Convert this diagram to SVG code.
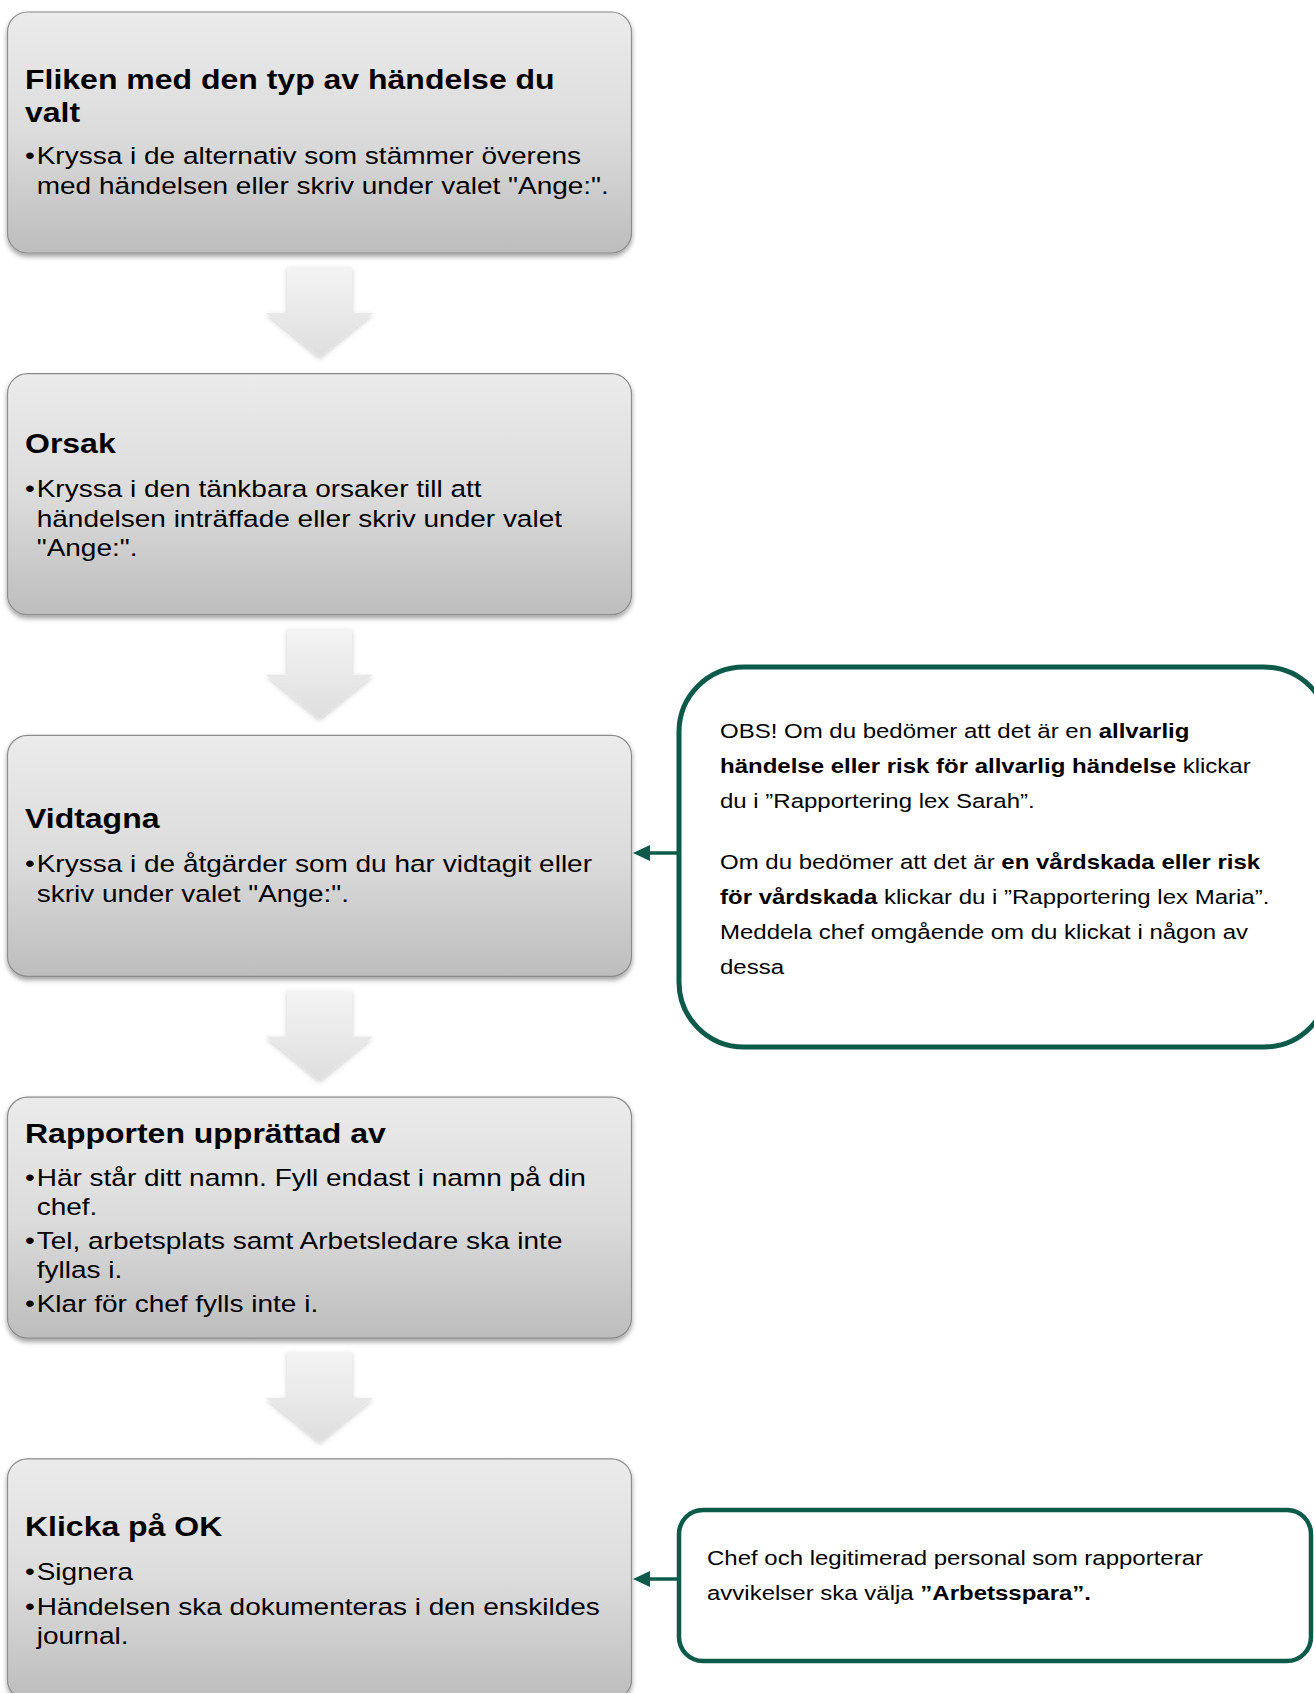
<svg xmlns="http://www.w3.org/2000/svg" width="1314" height="1693" viewBox="0 0 1314 1693">
<style>
  .box { fill: url(#boxg); stroke: #8c8c8c; stroke-width: 1.2; filter: url(#sh); }
  .darr { fill: url(#arrg); filter: url(#sh2); }
  .title { font-family: "Liberation Sans", Arial, sans-serif; font-weight: bold; font-size: 32px; fill: #000; }
  .bul { font-family: "Liberation Sans", Arial, sans-serif; font-size: 28px; fill: #000; }
  .call { fill: #ffffff; stroke: #0b5a4a; }
  .ct { font-family: "Liberation Sans", Arial, sans-serif; font-size: 24px; fill: #000; }
  .b { font-weight: bold; }
  .gline { stroke: #0b5a4a; stroke-width: 3.5; fill: none; marker-end: url(#gh); }
</style>
<defs>
  <linearGradient id="boxg" x1="0" y1="0" x2="0" y2="1">
    <stop offset="0" stop-color="#ecebec"/>
    <stop offset="0.5" stop-color="#dddcdd"/>
    <stop offset="1" stop-color="#bebdbe"/>
  </linearGradient>
  <linearGradient id="arrg" x1="0" y1="0" x2="0" y2="1">
    <stop offset="0" stop-color="#f4f4f4"/>
    <stop offset="1" stop-color="#dedede"/>
  </linearGradient>
  <filter id="sh" x="-5%" y="-5%" width="110%" height="115%">
    <feDropShadow dx="0" dy="3" stdDeviation="2.5" flood-color="#000" flood-opacity="0.38"/>
  </filter>
  <filter id="sh2" x="-20%" y="-20%" width="140%" height="140%">
    <feDropShadow dx="0" dy="2" stdDeviation="2.5" flood-color="#000" flood-opacity="0.2"/>
  </filter>
  <marker id="gh" markerUnits="userSpaceOnUse" markerWidth="18" markerHeight="16" refX="0" refY="8" orient="auto" viewBox="0 0 18 16">
    <path d="M0,0 L17,8 L0,16 z" fill="#0b5a4a"/>
  </marker>
</defs>

<g id="connectors">
  <path class="darr" d="M287,267 H352 V313 H373 L319.5,357 L266,313 H287 Z"/>
  <path class="darr" transform="translate(0,361.7)" d="M287,267 H352 V313 H373 L319.5,357 L266,313 H287 Z"/>
  <path class="darr" transform="translate(0,723.4)" d="M287,267 H352 V313 H373 L319.5,357 L266,313 H287 Z"/>
  <path class="darr" transform="translate(0,1085.1)" d="M287,267 H352 V313 H373 L319.5,357 L266,313 H287 Z"/>
  <line class="gline" x1="679" y1="853" x2="650" y2="853"/>
  <line class="gline" x1="679" y1="1579" x2="650" y2="1579"/>
</g>

<g id="node1">
  <rect class="box" x="7.5" y="12" width="624" height="241" rx="20"/>
  <text class="title" transform="matrix(1 0 0 0.88 25 88.5)">Fliken med den typ av händelse du</text>
  <text class="title" transform="matrix(1 0 0 0.88 25 121.8)">valt</text>
  <text class="bul" transform="matrix(1 0 0 0.88 25 164.3)">•</text>
  <text class="bul" transform="matrix(1 0 0 0.88 36.7 164.3)">Kryssa i de alternativ som stämmer överens</text>
  <text class="bul" transform="matrix(1 0 0 0.88 36.7 194.3)">med händelsen eller skriv under valet "Ange:".</text>
</g>

<g id="node2">
  <rect class="box" x="7.5" y="373.7" width="624" height="241" rx="20"/>
  <text class="title" transform="matrix(1 0 0 0.88 25 452.5)">Orsak</text>
  <text class="bul" transform="matrix(1 0 0 0.88 25 497)">•</text>
  <text class="bul" transform="matrix(1 0 0 0.88 36.7 497)">Kryssa i den tänkbara orsaker till att</text>
  <text class="bul" transform="matrix(1 0 0 0.88 36.7 526.5)">händelsen inträffade eller skriv under valet</text>
  <text class="bul" transform="matrix(1 0 0 0.88 36.7 556)">"Ange:".</text>
</g>

<g id="node3">
  <rect class="box" x="7.5" y="735.4" width="624" height="241" rx="20"/>
  <text class="title" transform="matrix(1 0 0 0.88 25 828)">Vidtagna</text>
  <text class="bul" transform="matrix(1 0 0 0.88 25 872)">•</text>
  <text class="bul" transform="matrix(1 0 0 0.88 36.7 872)">Kryssa i de åtgärder som du har vidtagit eller</text>
  <text class="bul" transform="matrix(1 0 0 0.88 36.7 901.5)">skriv under valet "Ange:".</text>
</g>

<g id="node4">
  <rect class="box" x="7.5" y="1097.1" width="624" height="241" rx="20"/>
  <text class="title" transform="matrix(1 0 0 0.88 25 1143)">Rapporten upprättad av</text>
  <text class="bul" transform="matrix(1 0 0 0.88 25 1185.5)">•</text>
  <text class="bul" transform="matrix(1 0 0 0.88 36.7 1185.5)">Här står ditt namn. Fyll endast i namn på din</text>
  <text class="bul" transform="matrix(1 0 0 0.88 36.7 1214.5)">chef.</text>
  <text class="bul" transform="matrix(1 0 0 0.88 25 1249)">•</text>
  <text class="bul" transform="matrix(1 0 0 0.88 36.7 1249)">Tel, arbetsplats samt Arbetsledare ska inte</text>
  <text class="bul" transform="matrix(1 0 0 0.88 36.7 1278)">fyllas i.</text>
  <text class="bul" transform="matrix(1 0 0 0.88 25 1312)">•</text>
  <text class="bul" transform="matrix(1 0 0 0.88 36.7 1312)">Klar för chef fylls inte i.</text>
</g>

<g id="node5">
  <rect class="box" x="7.5" y="1458.8" width="624" height="241" rx="20"/>
  <text class="title" transform="matrix(1 0 0 0.88 25 1536)">Klicka på OK</text>
  <text class="bul" transform="matrix(1 0 0 0.88 25 1580)">•</text>
  <text class="bul" transform="matrix(1 0 0 0.88 36.7 1580)">Signera</text>
  <text class="bul" transform="matrix(1 0 0 0.88 25 1615)">•</text>
  <text class="bul" transform="matrix(1 0 0 0.88 36.7 1615)">Händelsen ska dokumenteras i den enskildes</text>
  <text class="bul" transform="matrix(1 0 0 0.88 36.7 1644)">journal.</text>
</g>

<g id="callout1">
  <rect class="call" x="679" y="667" width="650" height="380" rx="65" stroke-width="5"/>
  <text class="ct" transform="matrix(1 0 0 0.87 720 737.5)">OBS! Om du bedömer att det är en <tspan class="b">allvarlig</tspan></text>
  <text class="ct" transform="matrix(1 0 0 0.87 720 772.5)"><tspan class="b">händelse eller risk för allvarlig händelse</tspan> klickar</text>
  <text class="ct" transform="matrix(1 0 0 0.87 720 807.5)">du i ”Rapportering lex Sarah”.</text>
  <text class="ct" transform="matrix(1 0 0 0.87 720 869)">Om du bedömer att det är <tspan class="b">en vårdskada eller risk</tspan></text>
  <text class="ct" transform="matrix(1 0 0 0.87 720 904)"><tspan class="b">för vårdskada</tspan> klickar du i ”Rapportering lex Maria”.</text>
  <text class="ct" transform="matrix(1 0 0 0.87 720 939)">Meddela chef omgående om du klickat i någon av</text>
  <text class="ct" transform="matrix(1 0 0 0.87 720 974)">dessa</text>
</g>

<g id="callout2">
  <rect class="call" x="679" y="1510" width="632" height="151" rx="24" stroke-width="4.5"/>
  <text class="ct" transform="matrix(1 0 0 0.87 707 1565)">Chef och legitimerad personal som rapporterar</text>
  <text class="ct" transform="matrix(1 0 0 0.87 707 1600)">avvikelser ska välja <tspan class="b">”Arbetsspara”.</tspan></text>
</g>
</svg>
